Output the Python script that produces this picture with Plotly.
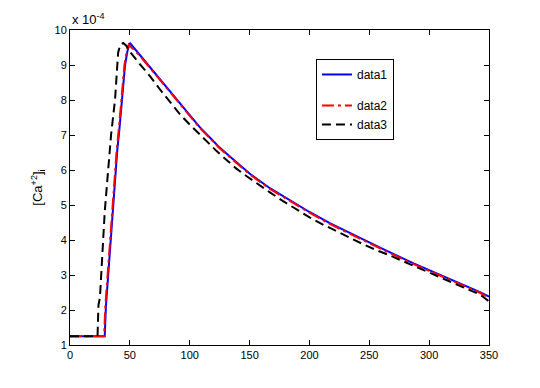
import plotly.graph_objects as go

# time axis and [Ca+2]i values (x 1e-4)
t1 = [0, 29, 30, 34, 37, 39.5, 41.2, 44, 46, 48, 50, 58, 67, 75, 83, 92, 100, 108, 117, 125,
      134, 142, 150, 167, 184, 200, 217, 234, 250, 259, 287, 315, 342, 350]
ca1 = [1.25, 1.25, 2.1, 4.1, 5.5, 6.57, 7.14, 8.2, 9.0, 9.4, 9.63, 9.3, 8.93, 8.62, 8.28, 7.92, 7.57,
       7.24, 6.92, 6.64, 6.37, 6.13, 5.9, 5.48, 5.12, 4.8, 4.48, 4.19, 3.92, 3.78, 3.33, 2.92, 2.52, 2.38]

t2 = [0, 28.5, 29.5, 33.5, 36.5, 39, 40.7, 43.5, 45.5, 47.5, 49, 58, 67, 75, 83, 92, 100, 108, 117, 125,
      134, 142, 150, 167, 184, 200, 217, 234, 250, 259, 287, 315, 342, 350]
ca2 = [1.25, 1.25, 2.1, 4.1, 5.5, 6.57, 7.14, 8.2, 9.0, 9.4, 9.58, 9.28, 8.91, 8.6, 8.26, 7.9, 7.55,
       7.22, 6.9, 6.62, 6.35, 6.11, 5.88, 5.46, 5.1, 4.78, 4.46, 4.17, 3.9, 3.76, 3.31, 2.9, 2.5, 2.35]

t3 = [0, 23, 23.8, 25, 29, 29.5, 33.4, 34.3, 37.6, 39.5, 40.2, 42, 44.5, 47, 50, 58.5, 66.8, 75.2,
      83.5, 91.9, 100, 106, 114, 122.5, 132, 139, 147.6, 157.3, 167, 178, 189, 200.5, 212, 223,
      234, 246, 256, 267, 292, 317.5, 342.5, 350]
ca3 = [1.25, 1.25, 2.15, 2.35, 4.8, 5.0, 6.57, 7.0, 8.0, 9.0, 9.35, 9.58, 9.63, 9.55, 9.38, 9.02,
       8.68, 8.3, 7.93, 7.59, 7.3, 7.09, 6.82, 6.54, 6.25, 6.04, 5.82, 5.58, 5.36, 5.11, 4.87, 4.64,
       4.43, 4.24, 4.05, 3.86, 3.71, 3.56, 3.19, 2.82, 2.44, 2.25]

x_ticks = [0, 50, 100, 150, 200, 250, 300, 350]
y_ticks = [1, 2, 3, 4, 5, 6, 7, 8, 9, 10]

fnt = "Liberation Sans, Arial, sans-serif"

fig = go.Figure()
fig.add_trace(go.Scatter(x=t1, y=ca1, mode="lines", name="data1", legendgroup="g1",
                         line=dict(color="#0000ff", width=2)))
fig.add_trace(go.Scatter(x=t2, y=ca2, mode="lines", name="data2", legendgroup="g2",
                         line=dict(color="#ff0000", width=2, dash="12px,4px,3px,4px")))
fig.add_trace(go.Scatter(x=t3, y=ca3, mode="lines", name="data3", legendgroup="g2",
                         line=dict(color="#000000", width=2, dash="9px,5px")))

axis_common = dict(showgrid=False, zeroline=False, showline=True, linecolor="black", linewidth=1,
                   mirror="ticks", ticks="inside", ticklen=5, tickcolor="black",
                   tickfont=dict(family=fnt, size=11, color="black"))

fig.update_xaxes(range=[0, 350], tickvals=x_ticks, **axis_common)
fig.update_yaxes(range=[1, 10], tickvals=y_ticks,
                 title=dict(text="[Ca<sup>+2</sup>]<sub>i</sub>", standoff=8,
                            font=dict(family=fnt, size=13, color="black")),
                 **axis_common)

fig.add_annotation(x=0, y=1, xref="paper", yref="paper", xanchor="left", yanchor="bottom",
                   text="x 10<sup>-4</sup>", showarrow=False, yshift=1,
                   font=dict(family=fnt, size=13, color="black"))

# page body adds an 8px offset, so margins are shifted to keep the axes in place
fig.update_layout(
    width=540, height=388,
    margin=dict(l=62, r=59, t=22, b=51),
    paper_bgcolor="white", plot_bgcolor="white",
    showlegend=True,
    legend=dict(x=0.587, y=0.908, xanchor="left", yanchor="top",
                bordercolor="black", borderwidth=1, bgcolor="white",
                tracegroupgap=12, traceorder="grouped",
                font=dict(family=fnt, size=12, color="black")),
)

fig.write_html("out.html")
